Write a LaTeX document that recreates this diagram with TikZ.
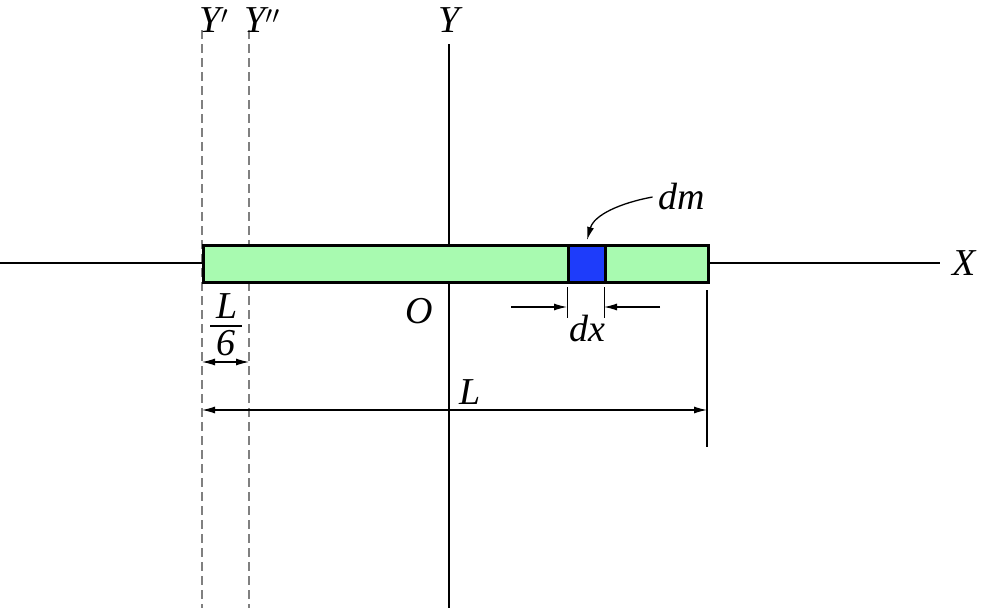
\documentclass[tikz,border=0pt]{standalone}
\usepackage{fontspec}
\setmainfont{Liberation Serif}
\usetikzlibrary{arrows.meta}
\begin{document}
\begin{tikzpicture}[x=1pt,y=-1pt,
  lbl/.style={font=\fontsize{38}{40}\selectfont\itshape,inner sep=0pt},
  ax/.style={line width=1.5pt},
  gdash/.style={gray,line width=1.3pt,dash pattern=on 9pt off 5pt},
  tip/.style={-{Latex[length=13pt,width=7pt]}},
  dim/.style={line width=1.1pt,tip},
  ddim/.style={line width=1.1pt,{Latex[length=13pt,width=7pt]}-{Latex[length=13pt,width=7pt]}},
  ]
\useasboundingbox (0,0) rectangle (983,608);
\draw[gdash] (202,30) -- (202,608);
\draw[gdash] (249,30) -- (249,608);
\draw[ax] (0,263) -- (940,263);
\draw[ax] (449,44) -- (449,608);
\node[draw,line width=3pt,fill={rgb,255:red,168;green,250;blue,176},minimum width=505pt,minimum height=37pt,anchor=north west,inner sep=0pt] (rod) at (202,244) {};
\node[draw,line width=3pt,fill={rgb,255:red,30;green,60;blue,250},minimum width=37pt,minimum height=37pt,anchor=north west,inner sep=0pt] (dm) at (567,244) {};
\node[lbl] (yp) at (214,20) {Y$'$};
\node[lbl] (ypp) at (262,20) {Y$''$};
\node[lbl] (y) at (449,20) {Y};
\node[lbl] (x) at (964,263) {X};
\node[lbl] (o) at (419,311) {O};
\node[lbl] (dml) at (682,197) {dm};
\node[lbl] (dxl) at (587,329) {dx};
\node[lbl] (l) at (470,392) {L};
\node[lbl] (l6n) at (227,306) {L};
\node[lbl] (l6d) at (226,343) {6};
\draw[line width=1.2pt] (210,326) -- (242,326);
\draw[line width=1.3pt] (707,290) -- (707,447);
\draw[line width=1pt] (567,287) -- (567,318);
\draw[line width=1pt] (604,287) -- (604,318);
\coordinate (a1) at (511,307); \coordinate (a2) at (567,307);
\coordinate (a3) at (660,307); \coordinate (a4) at (604,307);
\draw[dim] (a1) -- (a2);
\draw[dim] (a3) -- (a4);
\draw[ddim] (202,362) -- (249,362);
\draw[ddim] (202,410) -- (707,410);
\draw[line width=1.3pt,tip] (dml.west) ++(-6,0) .. controls (620,203) and (594,215) .. (587,240);
\end{tikzpicture}
\end{document}
